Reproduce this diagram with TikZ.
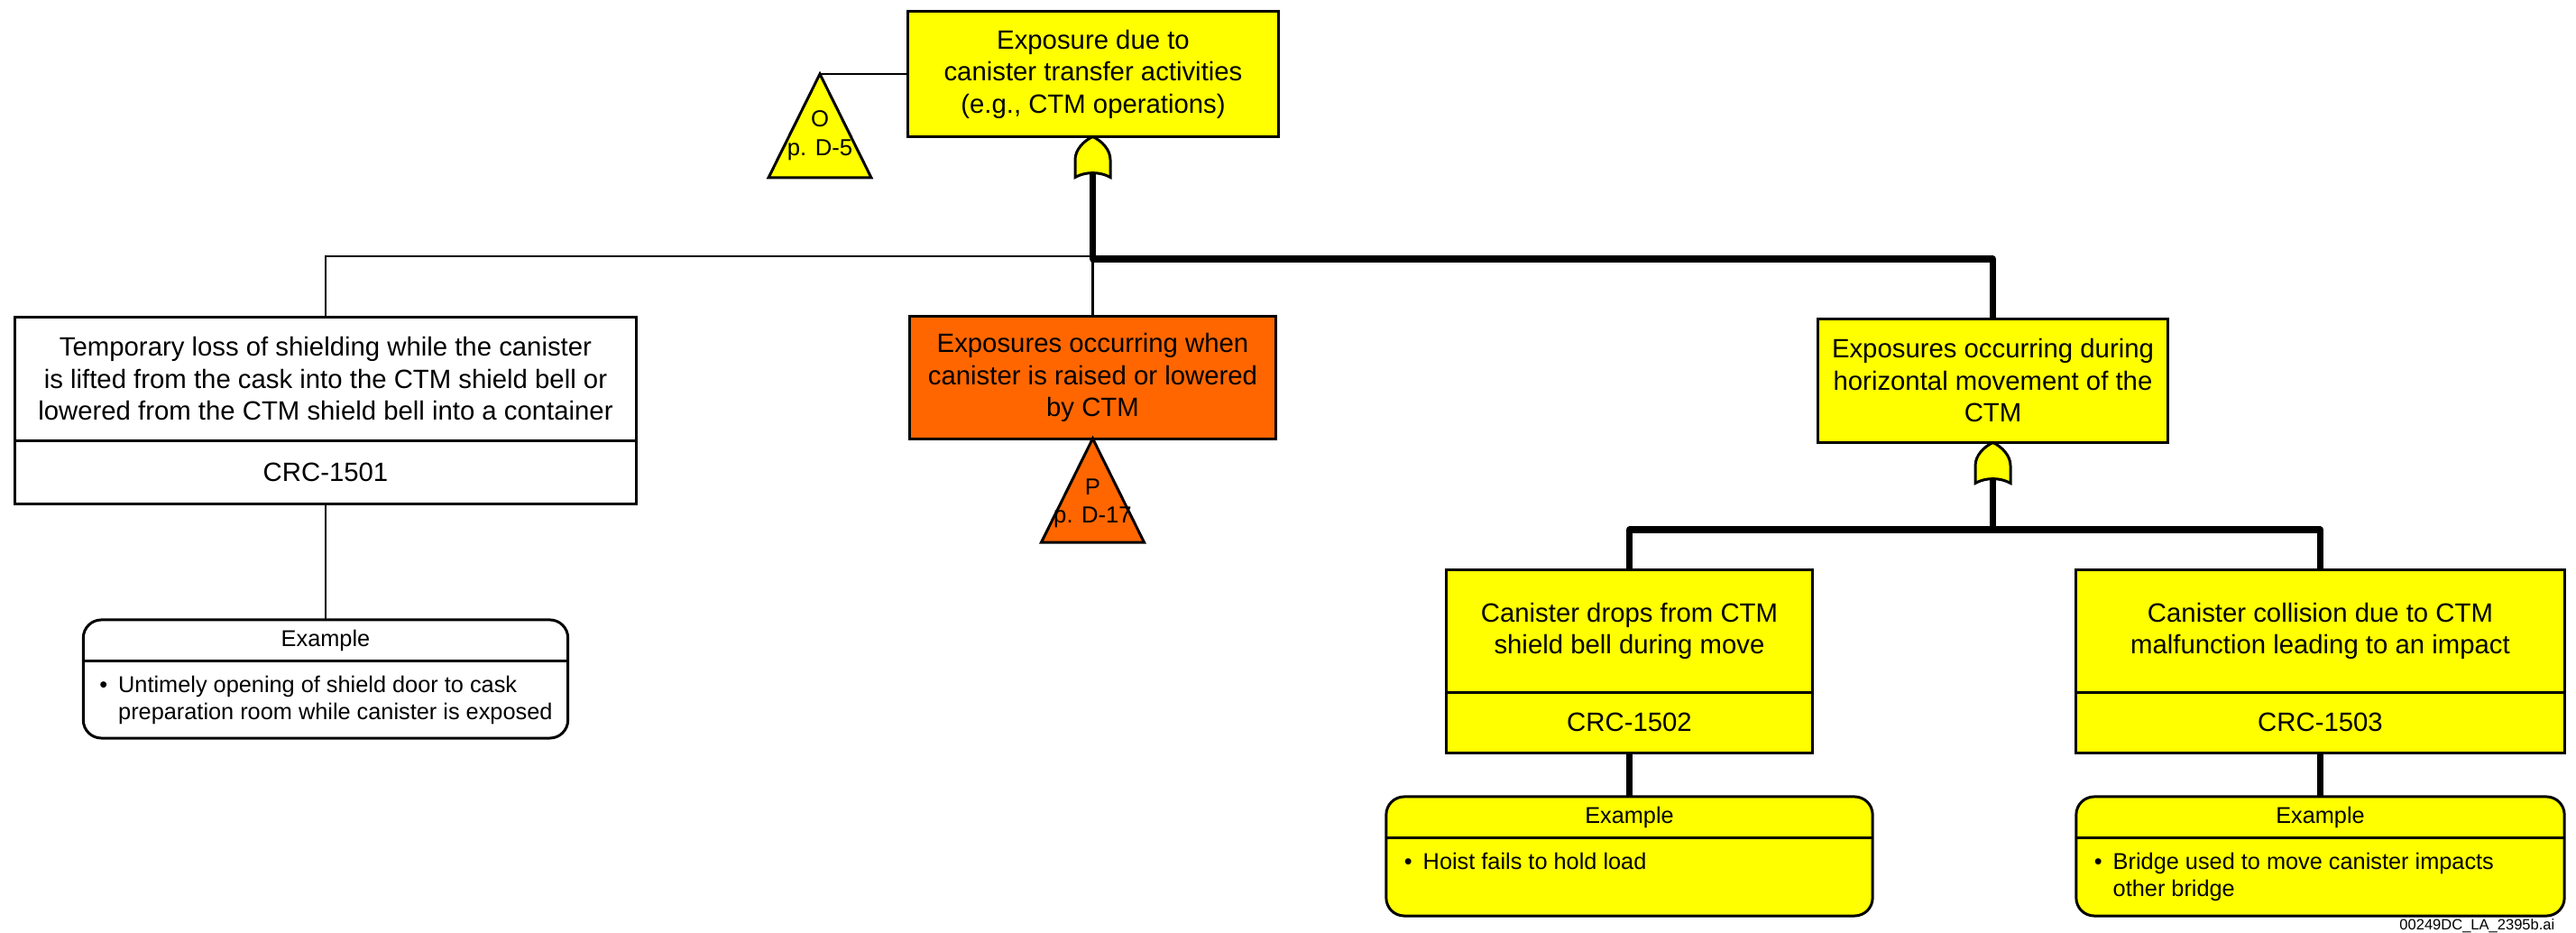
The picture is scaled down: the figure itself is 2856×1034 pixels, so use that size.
\documentclass[tikz,border=0pt]{standalone}
\usepackage{fontspec}
\setmainfont{Liberation Sans}
\usetikzlibrary{positioning}
\definecolor{ftyellow}{HTML}{FFFF00}
\definecolor{ftorange}{HTML}{FF6600}

\begin{document}
\begin{tikzpicture}[x=0.01cm,y=-0.01cm,
    event/.style={draw,line width=0.85pt,fill=ftyellow,inner sep=0pt,outer sep=0pt,align=center,
        minimum height=1.36cm,font=\fontsize{8.34}{10.1}\selectfont},
    eventid/.style={event,minimum height=0.67cm},
    example/.style={draw,line width=0.85pt,fill=ftyellow,rounded corners=0.2cm,inner sep=0pt,
        outer sep=0pt,minimum height=1.32cm},
    extitle/.style={inner sep=0pt,outer sep=0pt,minimum height=0.46cm,font=\fontsize{7.2}{8.54}\selectfont},
    exbody/.style={inner sep=0pt,outer sep=0pt,align=left,font=\fontsize{7.2}{8.54}\selectfont},
    thinline/.style={line width=0.7pt},
    thickline/.style={line width=2pt,line join=round},
    tri/.style={line width=0.85pt},
    tritext/.style={inner sep=0pt,align=center,font=\fontsize{7.3}{9}\selectfont},
    orgate/.pic={\filldraw [line width=0.85pt,fill=ftyellow] (0,-22.5) .. controls (10,-18) and (19.5,-8) .. (19.5,3)
        -- (19.5,22.5) .. controls (8,16) and (-8,16) .. (-19.5,22.5) -- (-19.5,3)
        .. controls (-19.5,-8) and (-10,-18) .. (0,-22.5) -- cycle;}]
    \path [use as bounding box,fill=white] (0,0) rectangle (2856,1034);

    \node [event, minimum width=4.10cm, minimum height=1.38cm] (TOP) at (1212,82) {Exposure due to\\canister transfer activities\\(e.g., CTM operations)};
    \node [event, fill=white, minimum width=6.88cm] (SHLD) at (361,420) {Temporary loss of shielding while the canister\\is lifted from the cask into the CTM shield bell or\\lowered from the CTM shield bell into a container};
    \node [eventid, fill=white, minimum width=6.88cm, minimum height=0.70cm, below=0pt of SHLD] (SHLDID) {CRC-1501};
    \node [event, fill=ftorange, minimum width=4.05cm, minimum height=1.35cm] (RAISE) at (1211.5,418.5) {Exposures occurring when\\canister is raised or lowered\\by CTM};
    \node [event, minimum width=3.87cm] (HORIZ) at (2209.5,422) {Exposures occurring during\\horizontal movement of the\\CTM};
    \node [event, minimum width=4.05cm, minimum height=1.35cm] (DROP) at (1806.5,699.5) {Canister drops from CTM\\shield bell during move};
    \node [eventid, minimum width=4.05cm, below=0pt of DROP] (DROPID) {CRC-1502};
    \node [event, minimum width=5.41cm, minimum height=1.35cm] (COLL) at (2572.5,699.5) {Canister collision due to CTM\\malfunction leading to an impact};
    \node [eventid, minimum width=5.41cm, below=0pt of COLL] (COLLID) {CRC-1503};

    \node [example, fill=white, minimum width=5.37cm, minimum height=1.31cm] (EXSHLD) at (361,752.5) {};
    \node [extitle, below=0pt of EXSHLD.north] (EXSHLDT) {Example};
    \coordinate (EXSHLDD) at (EXSHLD.west |- EXSHLDT.south);
    \draw [line width=0.85pt] (EXSHLDD) -- (EXSHLD.east |- EXSHLDT.south);
    \node [exbody, below right=0.13cm and 0.18cm of EXSHLDD] (EXSHLDB) {\begin{tabular}{@{}l@{\hspace{0.12cm}}l@{}}\textbullet & Untimely opening of shield door to cask\\ & preparation room while canister is exposed\end{tabular}};

    \node [example, minimum width=5.39cm] (EXDROP) at (1806.5,949) {};
    \node [extitle, below=0pt of EXDROP.north] (EXDROPT) {Example};
    \coordinate (EXDROPD) at (EXDROP.west |- EXDROPT.south);
    \draw [line width=0.85pt] (EXDROPD) -- (EXDROP.east |- EXDROPT.south);
    \node [exbody, below right=0.13cm and 0.2cm of EXDROPD] (EXDROPB) {\begin{tabular}{@{}l@{\hspace{0.12cm}}l@{}}\textbullet & Hoist fails to hold load\end{tabular}};

    \node [example, minimum width=5.41cm] (EXCOLL) at (2572.5,949) {};
    \node [extitle, below=0pt of EXCOLL.north] (EXCOLLT) {Example};
    \coordinate (EXCOLLD) at (EXCOLL.west |- EXCOLLT.south);
    \draw [line width=0.85pt] (EXCOLLD) -- (EXCOLL.east |- EXCOLLT.south);
    \node [exbody, below right=0.13cm and 0.2cm of EXCOLLD] (EXCOLLB) {\begin{tabular}{@{}l@{\hspace{0.12cm}}l@{}}\textbullet & Bridge used to move canister impacts\\ & other bridge\end{tabular}};

    \coordinate (TRIO) at (909,82);
    \coordinate (TRIP) at (RAISE.south);
    \filldraw [tri, fill=ftyellow] (TRIO) -- ++(57,115) -- ++(-114,0) -- cycle;
    \filldraw [tri, fill=ftorange] (TRIP) -- ++(57,115) -- ++(-114,0) -- cycle;
    \node [tritext] (TRIOTXT) at (909,150) {O\\p. D-5};
    \node [tritext] (TRIPTXT) at (1211.5,558) {P\\p. D-17};

    \coordinate (GTOP) at (1211.5,174);
    \coordinate (GHOR) at (2209.5,513);
    \coordinate (J1) at (1211.5,287);
    \coordinate (J1L) at (1211.5,284);
    \coordinate (J2) at (2209.5,587);

    \draw [thinline] (TRIO) -- (TOP.west);
    \draw [thinline] (J1L) -| (SHLD.north);
    \draw [thinline] (J1) -- (RAISE.north);
    \draw [thickline] (GTOP) -- (J1) -| (HORIZ.north);
    \draw [thickline] (GHOR) -- (J2);
    \draw [thickline] (DROP.north) |- (J2) -| (COLL.north);
    \draw [thinline] (SHLDID.south) -- (EXSHLD.north);
    \draw [thickline] (DROPID.south) -- (EXDROP.north);
    \draw [thickline] (COLLID.south) -- (EXCOLL.north);

    \pic at (GTOP) {orgate};
    \pic at (GHOR) {orgate};

    \node [anchor=east, inner sep=0pt, font=\fontsize{4.7}{5.6}\selectfont] (FILE) at (2833,1026) {00249DC\_LA\_2395b.ai};
\end{tikzpicture}
\end{document}
